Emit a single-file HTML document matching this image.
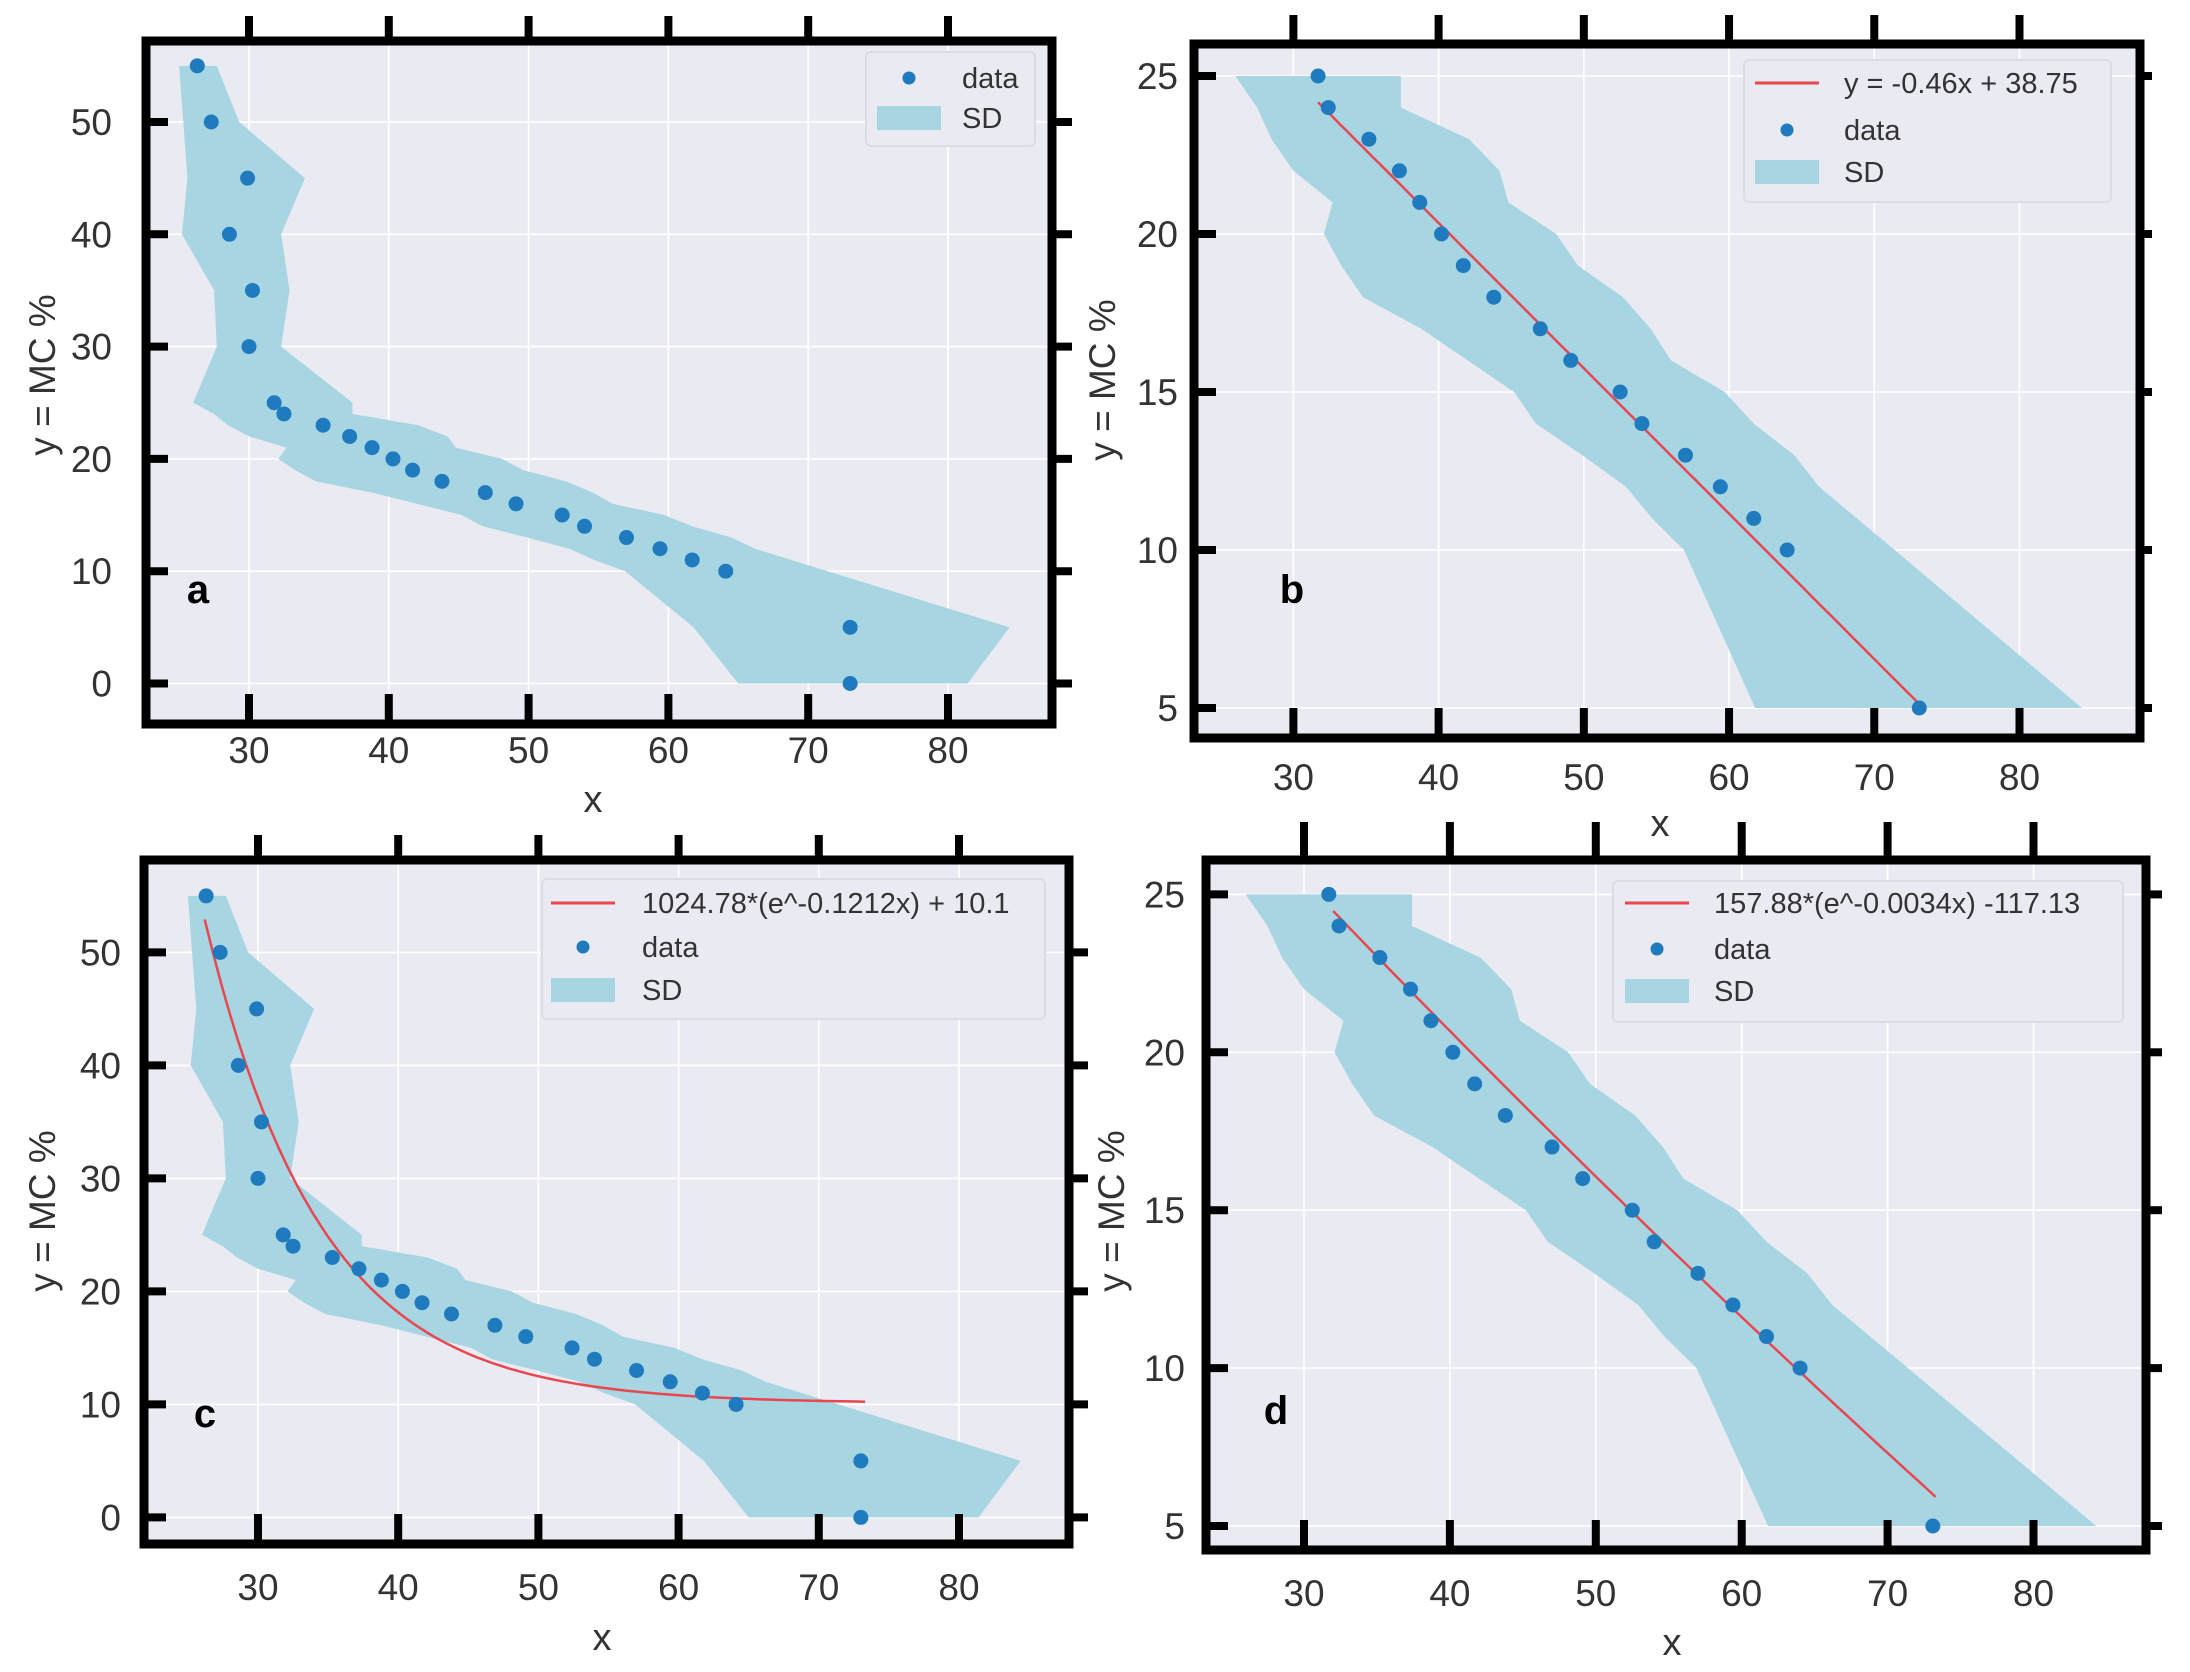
<!DOCTYPE html>
<html><head><meta charset="utf-8">
<style>
html,body{margin:0;padding:0;background:#fff;}
svg{display:block;}
text{font-family:"Liberation Sans",Arial,sans-serif;}
</style></head>
<body>
<svg id="fig" width="2190" height="1672" viewBox="0 0 2190 1672" xmlns="http://www.w3.org/2000/svg"></svg>
<script>
// ---- data ----
const ptsX_ac = [26.3,27.3,29.9,28.6,30.25,30.0,31.8,32.5,35.3,37.2,38.8,40.3,41.7,43.8,46.9,49.1,52.4,54.0,57.0,59.4,61.7,64.1,73.0,73.0];
const ptsY_ac = [55,50,45,40,35,30,25,24,23,22,21,20,19,18,17,16,15,14,13,12,11,10,5,0];
const ptsX_bd = [31.7,32.4,35.2,37.3,38.7,40.2,41.7,43.8,47.0,49.1,52.5,54.0,57.0,59.4,61.7,64.0,73.1];
const ptsY_bd = [25,24,23,22,21,20,19,18,17,16,15,14,13,12,11,10,5];
const bandY_ac  = [55,50,45,40,35,30,25,24,23,22,21,20,19,18,17,16,15,14,13,12,11,10,5,0];
const bandLo_ac = [25.0,25.3,25.6,25.2,27.5,27.7,26.0,27.5,28.5,30.0,32.7,32.1,33.3,34.8,38.8,42.0,45.2,46.7,49.9,52.9,54.7,56.9,61.8,65.0];
const bandHi_ac = [27.7,29.3,34.0,32.3,32.9,32.3,37.4,37.4,42.1,44.2,44.8,48.1,49.6,52.7,54.6,56.0,59.7,61.7,64.5,66.2,68.8,71.4,84.4,81.4];
const bandY_bd  = [25,24,23,22,21,20,19,18,17,16,15,14,13,12,11,10,5];
const bandLo_bd = [26.0,27.5,28.5,30.0,32.7,32.1,33.3,34.8,38.8,42.0,45.2,46.7,49.9,52.9,54.7,56.9,61.8];
const bandHi_bd = [37.4,37.4,42.1,44.2,44.8,48.1,49.6,52.7,54.6,56.0,59.7,61.7,64.5,66.2,68.8,71.4,84.3];
const linFitB = [-0.46, 38.75];            // slope, intercept
const expFitC = [1024.78, -0.1212, 10.1];  // a, k, c
const expFitD = [157.88, -0.0034, -117.13];
const xTicks = [30,40,50,60,70,80];
const yTicksAC = [0,10,20,30,40,50];
const yTicksBD = [5,10,15,20,25];
const legendB = "y = -0.46x + 38.75";
const legendC = "1024.78*(e^-0.1212x) + 10.1";
const legendD = "157.88*(e^-0.0034x) -117.13";

const NS = "http://www.w3.org/2000/svg";
const svg = document.getElementById('fig');
function mk(tag, attrs, parent, txt){
  const e = document.createElementNS(NS, tag);
  for (const k in attrs) e.setAttribute(k, attrs[k]);
  if (txt !== undefined) e.textContent = txt;
  (parent||svg).appendChild(e);
  return e;
}

const panels = [
  {id:'a', fx0:146,fx1:1052,fy0:41,fy1:724, xa:[30,249],xb:[80,948], ya:[0,683.5],yb:[50,122],
   yTicks:yTicksAC, px:ptsX_ac, py:ptsY_ac, by:bandY_ac, blo:bandLo_ac, bhi:bandHi_ac, fit:null,
   ylabR:112, xlabY:763, xtitleX:593, xtitleY:812, ytitleX:42, ytitleY:375, tag:[198,589],
   topT:16, rightT:1072, leg:{x:866,y:52,w:169,h:94,lineX:877,txtX:962,rows:[78,118]}},
  {id:'b', fx0:1194,fx1:2140,fy0:44,fy1:738, xa:[30,1293.4],xb:[80,2019.5], ya:[5,708],yb:[25,76],
   yTicks:yTicksBD, px:ptsX_bd, py:ptsY_bd, by:bandY_bd, blo:bandLo_bd, bhi:bandHi_bd,
   fit:{type:'lin',p:linFitB,x0:31.7,x1:73.3,label:legendB},
   ylabR:1178, xlabY:790, xtitleX:1660, xtitleY:836, ytitleX:1102, ytitleY:380, tag:[1292,589],
   topT:15, rightT:2152, leg:{x:1744,y:60,w:367,h:142,lineX:1755,txtX:1844,rows:[83,130,172]}},
  {id:'c', fx0:144,fx1:1069,fy0:860,fy1:1544, xa:[30,258],xb:[80,959], ya:[0,1517.4],yb:[50,952.4],
   yTicks:yTicksAC, px:ptsX_ac, py:ptsY_ac, by:bandY_ac, blo:bandLo_ac, bhi:bandHi_ac,
   fit:{type:'exp',p:expFitC,x0:26.2,x1:73.3,label:legendC},
   ylabR:121, xlabY:1600, xtitleX:602, xtitleY:1650, ytitleX:42, ytitleY:1211, tag:[205,1413],
   topT:835, rightT:1088, leg:{x:542,y:879,w:503,h:140,lineX:551,txtX:642,rows:[903,947,990]}},
  {id:'d', fx0:1206,fx1:2146,fy0:860,fy1:1550, xa:[30,1304],xb:[80,2033.5], ya:[5,1526],yb:[25,894.4],
   yTicks:yTicksBD, px:ptsX_bd, py:ptsY_bd, by:bandY_bd, blo:bandLo_bd, bhi:bandHi_bd,
   fit:{type:'exp',p:expFitD,x0:32,x1:73.3,label:legendD},
   ylabR:1185, xlabY:1606, xtitleX:1672, xtitleY:1655, ytitleX:1111, ytitleY:1211, tag:[1276,1410],
   topT:822, rightT:2162, leg:{x:1613,y:881,w:510,h:141,lineX:1625,txtX:1714,rows:[903,949,991]}}
];

const FILL = '#a8d5e2', DOT = '#1f7bbd', RED = '#e8474f';

panels.forEach(P => {
  const g = mk('g', {}, svg);
  
  
  const X = v => P.xa[1] + (v - P.xa[0]) * (P.xb[1]-P.xa[1])/(P.xb[0]-P.xa[0]);
  const Y = v => P.ya[1] + (v - P.ya[0]) * (P.yb[1]-P.ya[1])/(P.yb[0]-P.ya[0]);

  const bg = mk('rect', {x:P.fx0, y:P.fy0, width:P.fx1-P.fx0, height:P.fy1-P.fy0, fill:'#eaeaf2'}, g);
  
  
  xTicks.forEach(t => {
    const l = mk('line', {x1:X(t), x2:X(t), y1:P.fy0, y2:P.fy1, stroke:'#fff', 'stroke-width':1.6}, g);
    
    
  });
  P.yTicks.forEach(t => {
    const l = mk('line', {x1:P.fx0, x2:P.fx1, y1:Y(t), y2:Y(t), stroke:'#fff', 'stroke-width':1.6}, g);
    
    
  });
  let pts = [];
  for (let i=0;i<P.by.length;i++) pts.push(X(P.bhi[i]).toFixed(1)+','+Y(P.by[i]).toFixed(1));
  for (let i=P.by.length-1;i>=0;i--) pts.push(X(P.blo[i]).toFixed(1)+','+Y(P.by[i]).toFixed(1));
  const band = mk('polygon', {points:pts.join(' '), fill:FILL, stroke:'none'}, g);
  
  
  if (P.fit) {
    let d = '';
    const n = 80;
    for (let i=0;i<=n;i++){
      const xv = P.fit.x0 + (P.fit.x1-P.fit.x0)*i/n;
      const yv = P.fit.type==='lin' ? P.fit.p[0]*xv + P.fit.p[1] : P.fit.p[0]*Math.exp(P.fit.p[1]*xv) + P.fit.p[2];
      d += (i? 'L':'M') + X(xv).toFixed(1) + ',' + Y(yv).toFixed(1);
    }
    const fl = mk('path', {d:d, fill:'none', stroke:RED, 'stroke-width':2.5}, g);
    
    
  }
  for (let i=0;i<P.px.length;i++){
    const c = mk('circle', {cx:X(P.px[i]), cy:Y(P.py[i]), r:7.5, fill:DOT}, g);
    
    
  }
  const fr = mk('rect', {x:P.fx0, y:P.fy0, width:P.fx1-P.fx0, height:P.fy1-P.fy0, fill:'none', stroke:'#000', 'stroke-width':9}, g);
  
  
  xTicks.forEach(t => {
    const b = mk('line', {x1:X(t), x2:X(t), y1:P.fy1-30, y2:P.fy1, stroke:'#000', 'stroke-width':8}, g);
    
    
    const tp = mk('line', {x1:X(t), x2:X(t), y1:P.topT, y2:P.fy0, stroke:'#000', 'stroke-width':8}, g);
    
    
    const lb = mk('text', {x:X(t), y:P.xlabY, 'font-size':37, fill:'#333', 'text-anchor':'middle'}, g, String(t));
    
    
  });
  P.yTicks.forEach(t => {
    const l = mk('line', {x1:P.fx0, x2:P.fx0+22, y1:Y(t), y2:Y(t), stroke:'#000', 'stroke-width':8}, g);
    
    
    const r = mk('line', {x1:P.fx1, x2:P.rightT, y1:Y(t), y2:Y(t), stroke:'#000', 'stroke-width':8}, g);
    
    
    const lb = mk('text', {x:P.ylabR, y:Y(t)+13, 'font-size':37, fill:'#333', 'text-anchor':'end'}, g, String(t));
    
    
  });
  const xt = mk('text', {x:P.xtitleX, y:P.xtitleY, 'font-size':38, fill:'#333', 'text-anchor':'middle'}, g, 'x');
  
  
  const yt = mk('text', {x:0, y:0, 'font-size':37, fill:'#333', 'text-anchor':'middle',
    transform:'translate('+(P.ytitleX+13)+','+P.ytitleY+') rotate(-90)'}, g, 'y = MC %');
  
  
  const tg = mk('text', {x:P.tag[0], y:P.tag[1]+14, 'font-size':40, 'font-weight':'bold', fill:'#000', 'text-anchor':'middle'}, g, P.id);
  
  
  const L = P.leg;
  const lg = mk('g', {}, g);
  
  
  mk('rect', {x:L.x, y:L.y, width:L.w, height:L.h, rx:5, fill:'#eaeaf2', stroke:'#dcdce4', 'stroke-width':2}, lg);
  let row = 0;
  if (P.fit) {
    const ly = L.rows[row++];
    const ll = mk('line', {x1:L.lineX, x2:L.lineX+64, y1:ly, y2:ly, stroke:RED, 'stroke-width':3}, lg);
    
    
    const lt = mk('text', {x:L.txtX, y:ly+10, 'font-size':29, fill:'#333'}, lg, P.fit.label);
    
    
  }
  const dy = L.rows[row++];
  const dm = mk('circle', {cx:L.lineX+32, cy:dy, r:6.5, fill:DOT}, lg);
  
  
  const dt = mk('text', {x:L.txtX, y:dy+10, 'font-size':29, fill:'#333'}, lg, 'data');
  
  
  const sy = L.rows[row++];
  const sr = mk('rect', {x:L.lineX, y:sy-12, width:64, height:24, fill:FILL}, lg);
  
  
  const st = mk('text', {x:L.txtX, y:sy+10, 'font-size':29, fill:'#333'}, lg, 'SD');
  
  
});
</script>
</body></html>
